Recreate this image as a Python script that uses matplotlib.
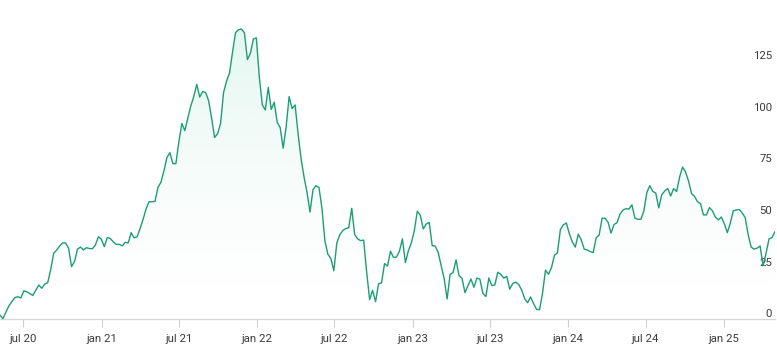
import matplotlib
matplotlib.use('Agg')
import matplotlib.pyplot as plt
import matplotlib.dates as mdates
from matplotlib.colors import to_rgb
import numpy as np
import pandas as pd

plt.rcParams['font.family'] = ['Roboto', 'DejaVu Sans']

# ---- data (weekly) ----
start_date = '2020-05-07'
values = [
    -1, -2.8, 0.5, 3.5, 5.6, 7.5, 7.9, 7.3, 10.8, 10.3,
    9.5, 8.5, 11, 13.6, 12, 14, 14.7, 21, 29, 30.5,
    32.5, 34, 34, 31.5, 22.5, 25, 31, 32, 30.6, 31.7,
    31.3, 31.2, 33, 37, 35.8, 32.2, 36.6, 36.2, 34.5, 33.3,
    33.3, 32.6, 34.3, 34, 39, 36.5, 37, 41, 45.5, 50.5,
    54, 54, 54.2, 61, 63.5, 69, 75.5, 77.8, 72.5, 72.5,
    83, 92, 88.5, 94.5, 100.5, 105, 111, 104.8, 107.5, 107,
    103, 94.5, 85.2, 87, 92, 107, 112.5, 116.5, 126.5, 136,
    137.5, 137.8, 136, 123, 126, 133, 133.5, 114.5, 101, 98.5,
    109.5, 98.8, 102.3, 92.5, 90, 80, 90.5, 105, 99.2, 101,
    87, 75, 66, 58.5, 49, 59.8, 61.8, 61, 51, 35,
    28.5, 26.5, 20.5, 34, 38, 40, 41, 41.4, 50.8, 38,
    36, 35.1, 35.4, 20, 6.5, 11, 5.5, 14.2, 14.6, 24,
    22.8, 30, 27, 27.1, 30, 36, 24.5, 30.2, 34, 40,
    49.4, 47.5, 40.8, 43.2, 44, 32.7, 32.5, 29.5, 23, 16.8,
    6.8, 18.8, 19.6, 25.8, 18.2, 16.8, 9.9, 13.3, 16.5, 12.5,
    17, 16.4, 9.5, 8, 17, 13.3, 13.6, 19.8, 18.8, 16.9,
    17.8, 11.6, 14.3, 15, 13.9, 11.2, 7, 5, 7.8, 4.6,
    1.8, 1.6, 9.5, 20.8, 18.8, 22, 28, 29.2, 40.5, 42.8,
    43.7, 38.5, 34.5, 32, 38.3, 35.5, 31, 30.6, 29.8, 29.3,
    36.5, 37.9, 46, 46, 44, 38.8, 43, 43.8, 48, 50,
    50.6, 50.5, 52.5, 46, 45.5, 45.5, 49.5, 58.5, 61.8, 59,
    58.2, 51, 57.4, 59.2, 60.4, 56.8, 60.4, 59, 66, 70.8,
    68.5, 64, 58, 56.6, 54, 53.1, 47.6, 47.6, 51.2, 49.6,
    46.6, 45.2, 46.6, 43.3, 39, 43.6, 49.6, 50, 50.2, 48.6,
    46.3, 38, 32, 31, 31.5, 32.5, 23, 29, 36, 36.6,
    39.5,
]
xtick_dates = ['2020-07-01', '2021-01-01', '2021-07-01', '2022-01-01', '2022-07-01',
               '2023-01-01', '2023-07-01', '2024-01-01', '2024-07-01', '2025-01-01']
xtick_labels = ['jul 20', 'jan 21', 'jul 21', 'jan 22', 'jul 22',
                'jan 23', 'jul 23', 'jan 24', 'jul 24', 'jan 25']
ytick_values = [0, 25, 50, 75, 100, 125]

dates = pd.date_range(start_date, periods=len(values), freq='7D')

# ---- figure ----
W, H = 777, 356
fig = plt.figure(figsize=(W / 100, H / 100), dpi=100)
ax = fig.add_axes([0, 37 / H, 775 / W, 319 / H])

ymin, ymax = -2.9, 151.9
line_color = '#1b9e77'

ax.plot(dates, values, color=line_color, lw=1.0, solid_joinstyle='round',
        solid_capstyle='round', zorder=3)

poly = ax.fill_between(dates, values, ymin, color='none', lw=0)
xnum = mdates.date2num(dates)
n = 256
rgba = np.zeros((n, 1, 4))
rgba[..., :3] = to_rgb('#2bbf8a')
rgba[:, 0, 3] = 0.13 * np.linspace(0, 1, n) ** 1.6
im = ax.imshow(rgba, extent=[xnum[0], xnum[-1], ymin, max(values)],
               aspect='auto', origin='lower', zorder=1, interpolation='bilinear')
im.set_clip_path(poly.get_paths()[0], transform=ax.transData)

ax.set_xlim(dates[0], dates[-1])
ax.set_ylim(ymin, ymax)

ax.set_xticks(pd.to_datetime(xtick_dates))
ax.set_xticklabels(xtick_labels)
ax.set_yticks(ytick_values)
ax.set_yticklabels([str(v) for v in ytick_values])

ax.tick_params(axis='x', length=5.8, width=0.8, color='#d0d0d0', labelcolor='#3c3c3c',
               labelsize=8.2, pad=5)
ax.tick_params(axis='y', left=False, right=False, labelleft=False, labelright=True,
               labelcolor='#3c3c3c', labelsize=8.2, pad=-5.5)
for lab in ax.get_yticklabels():
    lab.set_horizontalalignment('right')

for s in ['top', 'left', 'right']:
    ax.spines[s].set_visible(False)
ax.spines['bottom'].set_color('#d6d6d6')
ax.spines['bottom'].set_linewidth(0.9)
ax.set_facecolor('none')

fig.savefig('out.png', dpi=100)
